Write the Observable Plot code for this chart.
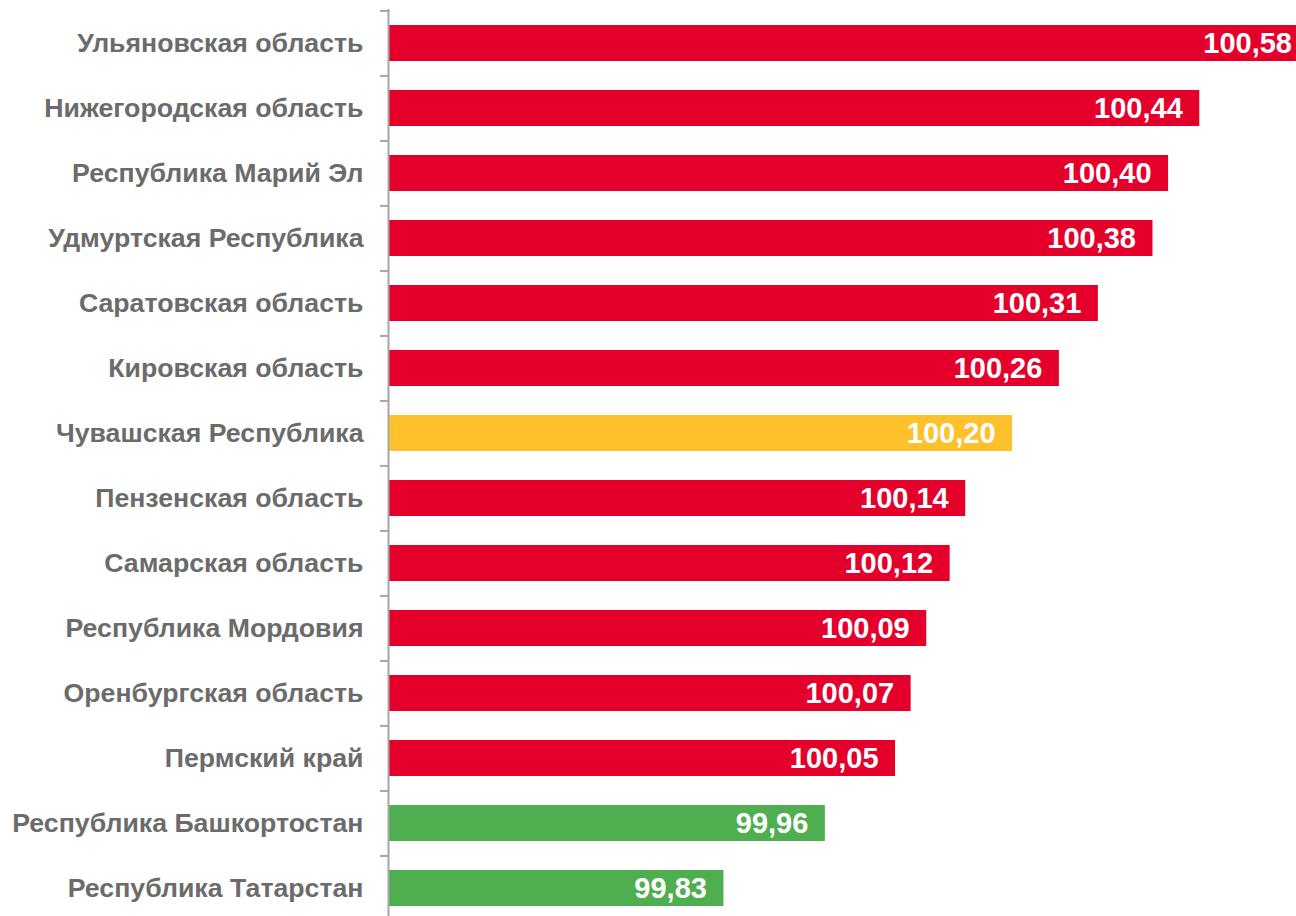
<!DOCTYPE html>
<html>
<head>
<meta charset="utf-8">
<script src="https://cdn.jsdelivr.net/npm/d3@7"></script>
<script src="https://cdn.jsdelivr.net/npm/@observablehq/plot@0.6"></script>
<style>
  html, body { margin: 0; padding: 0; background: #fff; overflow: hidden; }
  #chart svg { display: block; }
</style>
</head>
<body>
<div id="chart"></div>
<script>
const regions = [
  "Ульяновская область",
  "Нижегородская область",
  "Республика Марий Эл",
  "Удмуртская Республика",
  "Саратовская область",
  "Кировская область",
  "Чувашская Республика",
  "Пензенская область",
  "Самарская область",
  "Республика Мордовия",
  "Оренбургская область",
  "Пермский край",
  "Республика Башкортостан",
  "Республика Татарстан"
];
const values = [100.58, 100.44, 100.40, 100.38, 100.31, 100.26, 100.20, 100.14, 100.12, 100.09, 100.07, 100.05, 99.96, 99.83];
const groups = ["red","red","red","red","red","red","highlight","red","red","red","red","red","green","green"];

const data = regions.map((r, i) => ({region: r, value: values[i], group: groups[i]}));
const fmt = v => v.toFixed(2).replace(".", ",");

const W = 1296, H = 916;
const yRange = [9, 921];
const step = (yRange[1] - yRange[0]) / regions.length;
const xMin = 99.4;

const chart = Plot.plot({
  width: W,
  height: H,
  marginLeft: 388,
  marginRight: 0,
  marginTop: 9,
  marginBottom: 0,
  style: {fontFamily: "'Liberation Sans', Arial, sans-serif", background: "#fff", overflow: "hidden"},
  x: {domain: [xMin, 100.564], axis: null},
  y: {domain: regions, range: yRange, paddingInner: 0.45, paddingOuter: 0.225, label: null},
  color: {domain: ["red","highlight","green"], range: ["#E4002B","#FFC12B","#4FAE50"]},
  marks: [
    Plot.barX(data, {x1: xMin, x2: "value", y: "region", fill: "group"}),
    Plot.ruleX([xMin], {stroke: "#a6a6a6", strokeWidth: 2}),
    Plot.axisY({tickSize: 8, text: null, dy: -step / 2, stroke: "#a6a6a6", strokeWidth: 2, tickFormat: () => ""}),
    Plot.axisY({tickSize: 0, tickPadding: 25, fontSize: 26.7, fontWeight: "bold", fill: "#6b6b6b", label: null}),
    Plot.text(data, {x: "value", y: "region", text: d => fmt(d.value), textAnchor: "end", dx: -17, fill: "#fff", fontSize: 29, fontWeight: "bold"})
  ]
});
document.getElementById("chart").appendChild(chart);
</script>
</body>
</html>
